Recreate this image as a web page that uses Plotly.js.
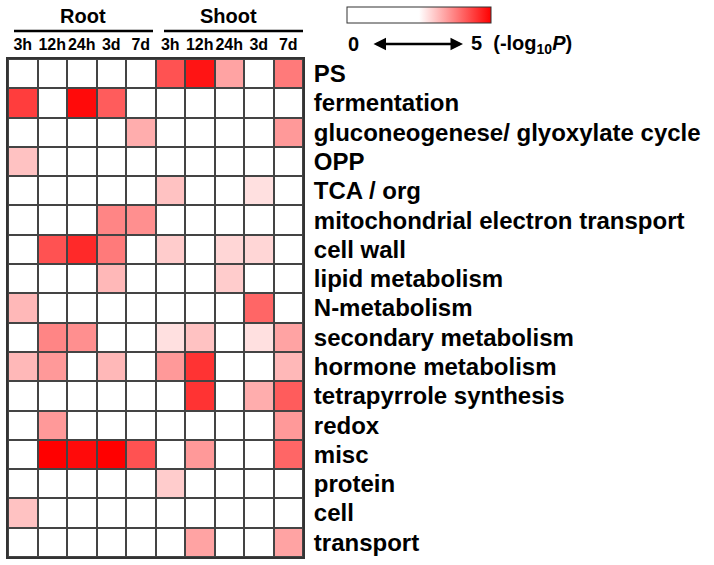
<!DOCTYPE html>
<html>
<head>
<meta charset="utf-8">
<script src="https://cdn.plot.ly/plotly-3.0.1.min.js"></script>
<style>
  body { margin: 0; background: #fff; }
  #chart { width: 714px; height: 565px; }
</style>
</head>
<body>
<div id="chart"></div>
<script>
// time points, 5 for root then 5 for shoot
const timeLabels = ['3h', '12h', '24h', '3d', '7d', '3h', '12h', '24h', '3d', '7d'];
const categories = [
  'PS', 'fermentation', 'gluconeogenese/ glyoxylate cycle', 'OPP', 'TCA / org',
  'mitochondrial electron transport', 'cell wall', 'lipid metabolism', 'N-metabolism',
  'secondary metabolism', 'hormone metabolism', 'tetrapyrrole synthesis', 'redox',
  'misc', 'protein', 'cell', 'transport'
];

// -log10 P, 0 = not significant (white)
const PS          = [0, 0, 0, 0, 0, 4.2, 4.8, 3.4, 0, 3.8];
const fermentation = [4.4, 0, 4.9, 4.1, 0, 0, 0, 0, 0, 0];
const gluconeo    = [0, 0, 0, 0, 3.3, 0, 0, 0, 0, 3.5];
const OPP         = [3.1, 0, 0, 0, 0, 0, 0, 0, 0, 0];
const TCA         = [0, 0, 0, 0, 0, 3.1, 0, 0, 2.8, 0];
const mito        = [0, 0, 0, 3.7, 3.6, 0, 0, 0, 0, 0];
const cellWall    = [0, 4.2, 4.6, 3.8, 0, 3.0, 0, 2.9, 2.9, 0];
const lipid       = [0, 0, 0, 3.2, 0, 0, 0, 3.0, 0, 0];
const nMetab      = [3.2, 0, 0, 0, 0, 0, 0, 0, 4.0, 0];
const secondary   = [0, 3.7, 3.6, 0, 0, 2.8, 3.1, 0, 2.8, 3.4];
const hormone     = [3.2, 3.5, 0, 3.2, 0, 3.5, 4.5, 0, 0, 3.2];
const tetrapyrrole = [0, 0, 0, 0, 0, 0, 4.5, 0, 3.3, 4.1];
const redox       = [0, 3.5, 0, 0, 0, 0, 0, 0, 0, 3.5];
const misc        = [0, 5.0, 4.9, 5.0, 4.2, 0, 3.5, 0, 0, 4.0];
const protein     = [0, 0, 0, 0, 0, 3.0, 0, 0, 0, 0];
const cell        = [3.1, 0, 0, 0, 0, 0, 0, 0, 0, 0];
const transport   = [0, 0, 0, 0, 0, 0, 3.4, 0, 0, 3.4];

const z = [PS, fermentation, gluconeo, OPP, TCA, mito, cellWall, lipid, nMetab,
           secondary, hormone, tetrapyrrole, redox, misc, protein, cell, transport];

const colIdx = timeLabels.map((_, i) => i);
const rowIdx = categories.map((_, i) => i);

// plot area in pixels
const L = 8, R = 303, T = 58, B = 557;
const px = x => (x - L) / (R - L);
const py = y => (B - y) / (B - T);

const FONT = 'Liberation Sans, Arial, sans-serif';

const heat = {
  type: 'heatmap',
  x: colIdx,
  y: rowIdx,
  z: z,
  zmin: 0,
  zmax: 5,
  colorscale: [[0, '#ffffff'], [0.5, '#ffffff'], [1, '#ff0000']],
  xgap: 2,
  ygap: 2,
  hoverinfo: 'skip',
  colorbar: {
    orientation: 'h',
    x: px(347), xanchor: 'left',
    y: py(7), yanchor: 'top',
    len: 144, lenmode: 'pixels',
    thickness: 16, thicknessmode: 'pixels',
    xpad: 0, ypad: 0,
    outlinewidth: 1, outlinecolor: '#333',
    showticklabels: false, ticks: ''
  }
};

// text annotation helper, anchored at its centre unless told otherwise
function label(text, x, y, size, xanchor) {
  return { text: text, xref: 'paper', yref: 'paper', x: px(x), y: py(y),
           xanchor: xanchor || 'center', yanchor: 'middle', showarrow: false,
           font: { size: size, weight: 'bold' } };
}

const layout = {
  width: 714,
  height: 565,
  margin: { l: L, r: 714 - R, t: T, b: 565 - B },
  paper_bgcolor: '#ffffff',
  plot_bgcolor: '#444444',
  font: { family: FONT, color: '#000' },
  xaxis: {
    side: 'top',
    tickvals: colIdx,
    ticktext: timeLabels,
    tickangle: 0,
    tickfont: { size: 16, family: FONT, weight: 'bold' },
    ticks: '', showgrid: false, zeroline: false,
    showline: true, mirror: true, linecolor: '#333', linewidth: 2,
    ticklabelstandoff: 1,
    range: [-0.5, 9.5], fixedrange: true
  },
  yaxis: {
    side: 'right',
    tickvals: rowIdx,
    ticktext: categories,
    tickfont: { size: 24, family: FONT, weight: 'bold' },
    ticks: '', showgrid: false, zeroline: false,
    showline: true, mirror: true, linecolor: '#333', linewidth: 2,
    ticklabelstandoff: 4,
    range: [16.5, -0.5], fixedrange: true
  },
  shapes: [
    { type: 'line', xref: 'paper', yref: 'paper', x0: px(14), x1: px(153), y0: py(30), y1: py(30),
      line: { color: '#000', width: 2.5 } },
    { type: 'line', xref: 'paper', yref: 'paper', x0: px(164), x1: px(303), y0: py(30), y1: py(30),
      line: { color: '#000', width: 2.5 } }
  ],
  annotations: [
    label('Root', 83, 15, 20),
    label('Shoot', 228, 15, 20),
    label('0', 353, 43, 20),
    { text: '', xref: 'paper', yref: 'paper', x: px(463), y: py(43), ax: -91, ay: 0,
      showarrow: true, arrowside: 'end+start', arrowhead: 2, startarrowhead: 2,
      arrowsize: 1, startarrowsize: 1, arrowwidth: 2.5, arrowcolor: '#000' },
    label('5  (-log<sub>10</sub><i>P</i>)', 469, 43, 20, 'left')
  ]
};

Plotly.newPlot('chart', [heat], layout, { displayModeBar: false, staticPlot: true });
</script>
</body>
</html>
